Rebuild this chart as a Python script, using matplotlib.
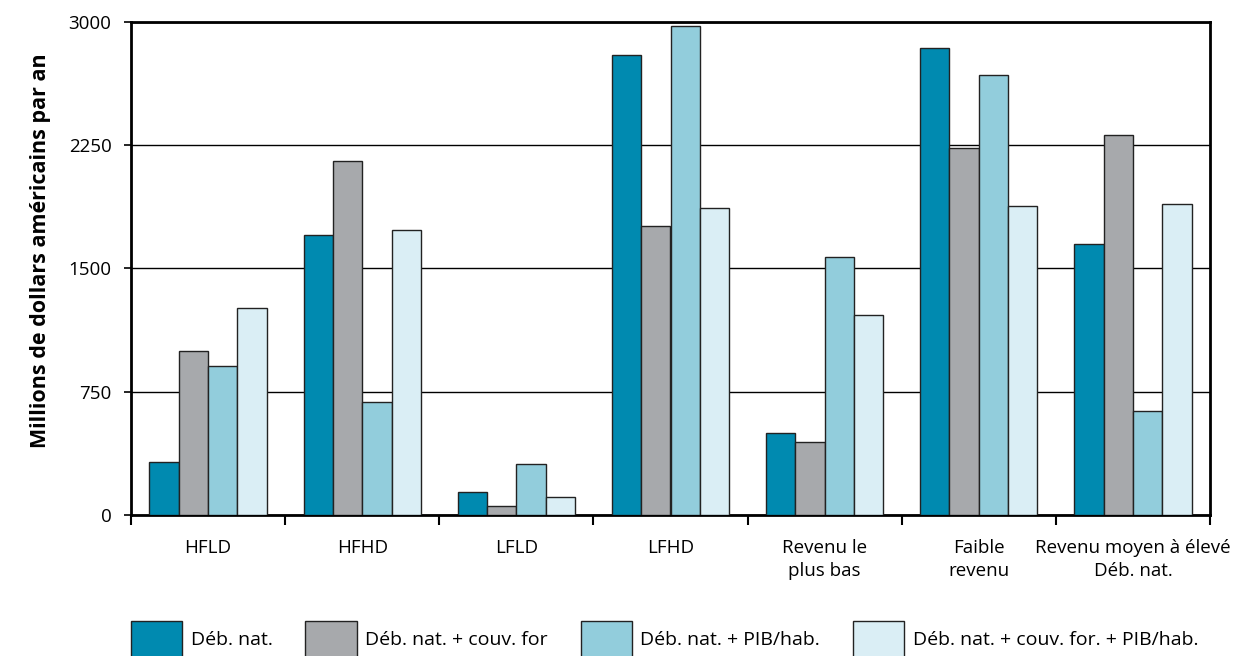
import matplotlib.pyplot as plt
import numpy as np

plt.rcParams['font.family'] = ['Open Sans', 'DejaVu Sans']

categories = ["HFLD", "HFHD", "LFLD", "LFHD", "Revenu le\nplus bas",
              "Faible\nrevenu", "Revenu moyen à élevé\nDéb. nat."]
series = ["Déb. nat.", "Déb. nat. + couv. for", "Déb. nat. + PIB/hab.",
          "Déb. nat. + couv. for. + PIB/hab."]

deb_nat = [320, 1700, 138, 2797, 497, 2839, 1646]
deb_couv = [999, 2150, 53, 1757, 444, 2233, 2310]
deb_pib = [904, 687, 312, 2975, 1567, 2675, 630]
deb_couv_pib = [1257, 1731, 108, 1865, 1214, 1879, 1893]

colors = ["#008AB0", "#A7A9AC", "#92CDDC", "#DAEEF5"]

fig = plt.figure(figsize=(12.47, 6.56), dpi=100)
ax = fig.add_axes([131 / 1247, 1 - 515 / 656, (1210 - 131) / 1247, (515 - 21.7) / 656])

x = np.arange(len(categories))
w = 0.19
for i, (vals, c, lab) in enumerate(zip([deb_nat, deb_couv, deb_pib, deb_couv_pib], colors, series)):
    ax.bar(x + (i - 1.5) * w, vals, width=w, color=c, edgecolor="#222222",
           linewidth=1.0, label=lab, zorder=3)

ax.set_xlim(-0.5, len(categories) - 0.5)
ax.set_ylim(0, 3000)
ax.set_yticks([0, 750, 1500, 2250, 3000])
ax.yaxis.grid(True, color="black", linewidth=1.0, zorder=0)
ax.set_axisbelow(True)

# category labels sit between the boundary ticks
ax.set_xticks(np.arange(len(categories) + 1) - 0.5)
ax.set_xticklabels([])
ax.set_xticks(x, minor=True)
ax.set_xticklabels(categories, minor=True, fontsize=13.5, linespacing=1.4)
ax.tick_params(axis="x", which="minor", length=0, pad=17)
ax.tick_params(axis="x", which="major", length=7, width=1.5, direction="out")
ax.tick_params(axis="y", length=5, width=1.2, direction="out", labelsize=13.5, pad=9)

for s in ax.spines.values():
    s.set_linewidth(2)

ax.set_ylabel("Millions de dollars américains par an", fontsize=15.5,
              fontweight="bold")
ax.yaxis.set_label_coords(-0.074, 0.535)

fig.legend(loc="upper left", bbox_to_anchor=(131 / 1247, 1 - 621 / 656),
           ncol=4, frameon=False, fontsize=14, handlelength=2.63,
           handleheight=2.47, handletextpad=0.45, columnspacing=1.68,
           borderaxespad=0, borderpad=0)

fig.savefig("out.png", dpi=100)
